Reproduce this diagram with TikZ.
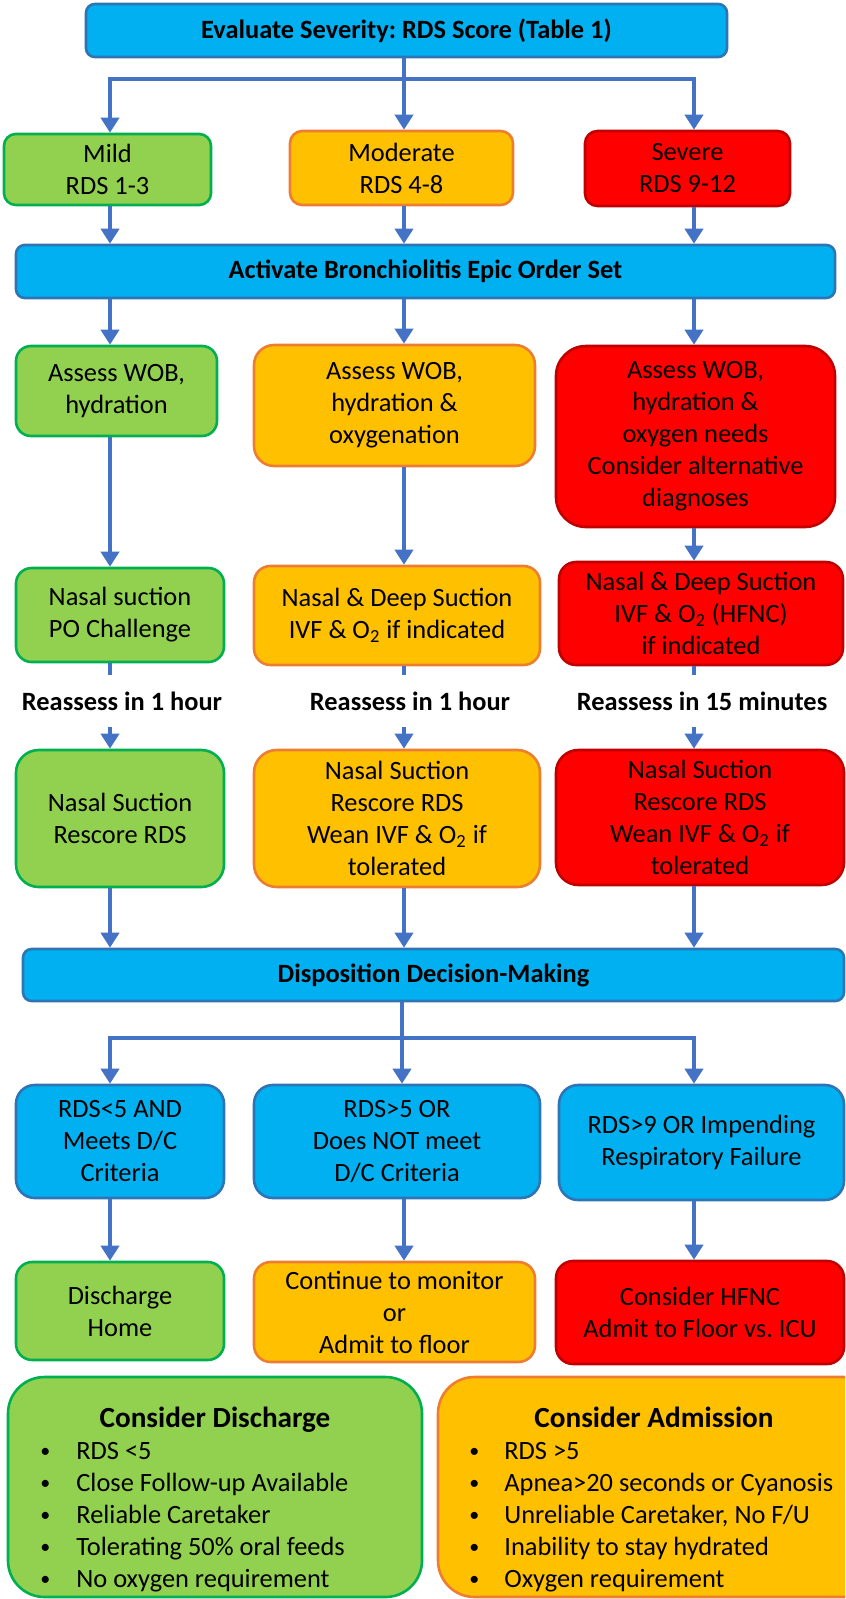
\documentclass[tikz,border=0pt]{standalone}
\usepackage{fontspec}
\setmainfont{Carlito}
\usepackage{tikz}
\usetikzlibrary{arrows.meta, positioning}
\frenchspacing
\definecolor{skyfill}{HTML}{00B0F0}
\definecolor{skyline}{HTML}{2E75B6}
\definecolor{mildfill}{HTML}{92D050}
\definecolor{mildline}{HTML}{00B050}
\definecolor{modfill}{HTML}{FFC000}
\definecolor{modline}{HTML}{ED7D31}
\definecolor{sevfill}{HTML}{FF0000}
\definecolor{sevline}{HTML}{C00000}
\definecolor{arrowblue}{HTML}{4472C4}
\newcommand{\listdot}{\raisebox{0.6pt}{\fontsize{10}{10}\selectfont\textbullet}}
\tikzstyle{arrow}     = [line width=2.4pt,draw=arrowblue,-{Triangle[length=7.5pt,width=9pt]}]
\tikzstyle{link}      = [line width=2.4pt,draw=arrowblue]
\tikzset{every node/.style={align=center}}
\tikzset{
  box/.style={draw, line width=1.3pt, inner sep=0pt, font=\fontsize{13.2}{16}\selectfont},
  wh/.style 2 args={minimum width=#1*0.5pt, minimum height=#2*0.5pt, rounded corners=#2*0.083pt},
  skybox/.style={box, fill=skyfill, draw=skyline},
  mildbox/.style={box, fill=mildfill, draw=mildline},
  modbox/.style={box, fill=modfill, draw=modline},
  sevbox/.style={box, fill=sevfill, draw=sevline},
  head/.style={font=\bfseries\fontsize{13.2}{16}\selectfont},
  waitnote/.style={head, inner sep=0pt, minimum height=26pt},
  listtext/.style={anchor=base west, inner sep=0pt, align=left, font=\fontsize{13.2}{16}\selectfont},
  listhead/.style={anchor=base, inner sep=0pt, font=\bfseries\fontsize{14.6}{18}\selectfont}
}

\begin{document}
\begin{tikzpicture}[x=0.5pt, y=-0.5pt]
  \useasboundingbox (0,0) rectangle (845,1599);
  % Columns
  \coordinate (c1) at (110,0);
  \coordinate (c2) at (404,0);
  \coordinate (c3) at (694,0);
  \coordinate (split1) at (404,79);
  \coordinate (split2) at (402,1038);

  % Severity
  \node[skybox, head, wh={641}{53}] (eval) at (406.5,30.5) {Evaluate Severity: RDS Score (Table 1)};
  \node[mildbox, wh={207}{71}] (mild) at (107.5,169.5) {Mild\\RDS 1-3};
  \node[modbox, wh={223}{74}] (moder) at (401.5,168) {Moderate\\RDS 4-8};
  \node[sevbox, wh={205}{75}] (sever) at (687.5,168.5) {Severe\\RDS 9-12};
  \node[skybox, head, wh={819}{53}] (act) at (425.5,271.5) {Activate Bronchiolitis Epic Order Set};

  % Assessment
  \node[mildbox, wh={201}{90}] (ass1) at (116.5,391) {Assess WOB,\\hydration};
  \node[modbox, wh={281}{121}] (ass2) at (394.5,405.5) {Assess WOB,\\hydration \&\\oxygenation};
  \node[sevbox, wh={279}{181}] (ass3) at (695.5,436.5) {Assess WOB,\\hydration \&\\oxygen needs\\Consider alternative\\diagnoses};

  % Treatment
  \node[mildbox, wh={208}{94}] (suc1) at (120,615) {Nasal suction\\PO Challenge};
  \node[modbox, wh={286}{99}] (suc2) at (397,615.5) {Nasal \& Deep Suction\\IVF \& O\textsubscript{2} if indicated};
  \node[sevbox, wh={284}{103}] (suc3) at (701,613.5) {Nasal \& Deep Suction\\IVF \& O\textsubscript{2} (HFNC)\\if indicated};
  \node[waitnote] (re1) at (122,701) {Reassess in 1 hour};
  \node[waitnote] (re2) at (410,701) {Reassess in 1 hour};
  \node[waitnote] (re3) at (702,701) {Reassess in 15 minutes};
  \node[mildbox, wh={208}{137}] (res1) at (120,818.5) {Nasal Suction\\Rescore RDS};
  \node[modbox, wh={286}{137}] (res2) at (397,818.5) {Nasal Suction\\Rescore RDS\\Wean IVF \& O\textsubscript{2} if\\tolerated};
  \node[sevbox, wh={288}{135}] (res3) at (700,817.5) {Nasal Suction\\Rescore RDS\\Wean IVF \& O\textsubscript{2} if\\tolerated};

  % Disposition
  \node[skybox, head, wh={821}{52}] (disp) at (433.5,975) {Disposition Decision-Making};
  \node[skybox, wh={208}{113}] (crit1) at (120,1141.5) {RDS<5 AND\\Meets D/C\\Criteria};
  \node[skybox, wh={286}{113}] (crit2) at (397,1141.5) {RDS>5 OR\\Does NOT meet\\D/C Criteria};
  \node[skybox, wh={285}{115}] (crit3) at (701.5,1142.5) {RDS>9 OR Impending\\Respiratory Failure};
  \node[mildbox, wh={208}{98}] (out1) at (120,1311) {Discharge\\Home};
  \node[modbox, wh={281}{100}] (out2) at (394.5,1312) {Continue to monitor\\or\\Admit to floor};
  \node[sevbox, wh={288}{103}] (out3) at (700,1312.5) {Consider HFNC\\Admit to Floor vs. ICU};

  % Arrows
  \draw[link] (eval.south -| split1) -- (split1);
  \draw[arrow] (split1) -| (mild.north -| c1);
  \draw[arrow] (split1) -- (moder.north -| c2);
  \draw[arrow] (split1) -| (sever.north -| c3);
  \foreach \a/\b/\c in {mild/ass1/c1, moder/ass2/c2, sever/ass3/c3} {
    \draw[arrow] (\a.south -| \c) -- (act.north -| \c);
    \draw[arrow] (act.south -| \c) -- (\b.north -| \c);
  }
  \foreach \a/\s/\r/\t/\c in {ass1/suc1/re1/res1/c1, ass2/suc2/re2/res2/c2, ass3/suc3/re3/res3/c3} {
    \draw[arrow] (\a.south -| \c) -- (\s.north -| \c);
    \draw[link] (\s.south -| \c) -- (\r.north -| \c);
    \draw[arrow] (\r.south -| \c) -- (\t.north -| \c);
    \draw[arrow] (\t.south -| \c) -- (disp.north -| \c);
  }
  \draw[link] (disp.south -| split2) -- (split2);
  \draw[arrow] (split2) -| (crit1.north -| c1);
  \draw[arrow] (split2) -- (crit2.north -| split2);
  \draw[arrow] (split2) -| (crit3.north -| c3);
  \foreach \a/\b/\c in {crit1/out1/c1, crit2/out2/c2, crit3/out3/c3}
    \draw[arrow] (\a.south -| \c) -- (\b.north -| \c);

  % Consider boxes
  \node[mildbox, wh={414}{220}] (dis) at (215,1487) {};
  \node[listhead] (distitle) at (215,1427) {Consider Discharge};
  \node[listtext] (dislist) at (40,1459) {\begin{tabular}[t]{@{}p{18pt}@{}l@{}}
    \listdot & RDS <5\\
    \listdot & Close Follow-up Available\\
    \listdot & Reliable Caretaker\\
    \listdot & Tolerating 50\% oral feeds\\
    \listdot & No oxygen requirement
  \end{tabular}};
  \begin{scope}
    \clip (0,0) rectangle (845,1599);
    \node[modbox, wh={442}{220}] (adm) at (659,1487) {};
  \end{scope}
  \node[listhead] (admtitle) at (654,1427) {Consider Admission};
  \node[listtext] (admlist) at (469,1459) {\begin{tabular}[t]{@{}p{17.5pt}@{}l@{}}
    \listdot & RDS >5\\
    \listdot & Apnea>20 seconds or Cyanosis\\
    \listdot & Unreliable Caretaker, No F/U\\
    \listdot & Inability to stay hydrated\\
    \listdot & Oxygen requirement
  \end{tabular}};
\end{tikzpicture}
\end{document}
